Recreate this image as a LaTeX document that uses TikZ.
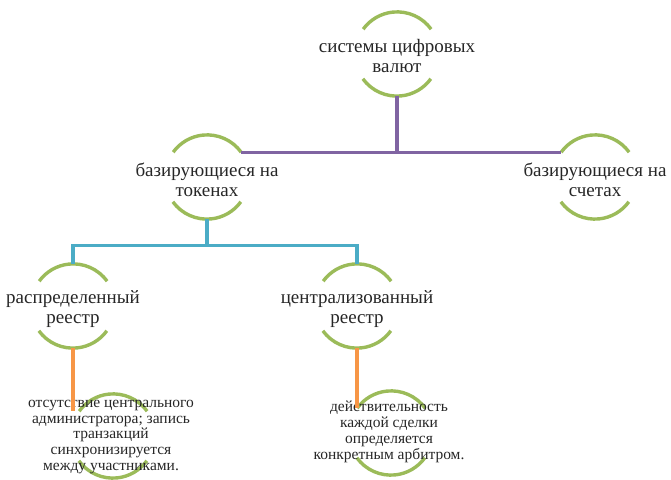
\documentclass[tikz,border=0pt]{standalone}
\usepackage{fontspec}
\setmainfont{Liberation Serif}
\usepackage{tikz}
\usetikzlibrary{positioning, calc}
\usepackage{xcolor}
\definecolor{ringgreen}{RGB}{155,187,89}
\definecolor{linkpurple}{RGB}{128,100,162}
\definecolor{linkteal}{RGB}{75,172,198}
\definecolor{linkorange}{RGB}{247,150,70}

\tikzset{
  ring/.style={circle, minimum size=84pt, inner sep=0pt},
  lbl/.style={align=center, font=\fontsize{19}{19.5}\selectfont, text=black!85},
  smalllbl/.style={align=center, font=\fontsize{15.5}{15.8}\selectfont, text=black!85},
  arcline/.style={ringgreen, line width=3.4pt},
  link/.style={line width=3.2pt}
}
% two green arcs round a ring node
\newcommand{\ringarcs}[1]{%
  \draw[arcline] (#1.36) arc[start angle=36, end angle=144, radius=42pt];
  \draw[arcline] (#1.216) arc[start angle=216, end angle=324, radius=42pt];
}

\begin{document}
\begin{tikzpicture}[x=1pt, y=1pt]
  \useasboundingbox (0,0) rectangle (671,479);
  \node[ring] (top) at (397,425) {};
  \node[ring] (tok) at (207,302) {};
  \node[ring] (acc) at (595,302) {};
  \node[ring] (dist) at (73,173) {};
  \node[ring] (cent) at (357,173) {};
  \node[ring] (distd) at (113,43) {};
  \node[ring] (centd) at (391,46) {};
  \foreach \n in {top, tok, acc, dist, cent, distd, centd} {\ringarcs{\n}}

  \node[lbl] (ttop) at ($(top)+(0,-2)$) {системы цифровых\\валют};
  \node[lbl] (ttok) at ($(tok)+(0,-3)$) {базирующиеся на\\токенах};
  \node[lbl] (tacc) at ($(acc)+(0,-3)$) {базирующиеся на\\счетах};
  \node[lbl] (tdist) at ($(dist)+(0,-3)$) {распределенный\\реестр};
  \node[lbl] (tcent) at ($(cent)+(0,-3)$) {централизованный\\реестр};
  \node[smalllbl] (tdistd) at ($(distd)+(-2,-1)$) {отсутствие центрального\\администратора; запись\\транзакций\\синхронизируется\\между участниками.};
  \node[smalllbl] (tcentd) at ($(centd)+(-2,1)$) {действительность\\каждой сделки\\определяется\\конкретным арбитром.};

  \draw[link, linkpurple] (top.south) -- (top.south |- tok.36);
  \draw[link, linkpurple] (tok.36) -- (acc.144);
  \draw[link, linkteal] (tok.south) -- ++(0,-26) coordinate (tj);
  \draw[link, linkteal] (dist.north) |- (tj) -| (cent.north);
  \draw[link, linkorange] (dist.south) -- (dist.south |- distd.144);
  \draw[link, linkorange] (cent.south) -- (cent.south |- centd.144);
\end{tikzpicture}
\end{document}
